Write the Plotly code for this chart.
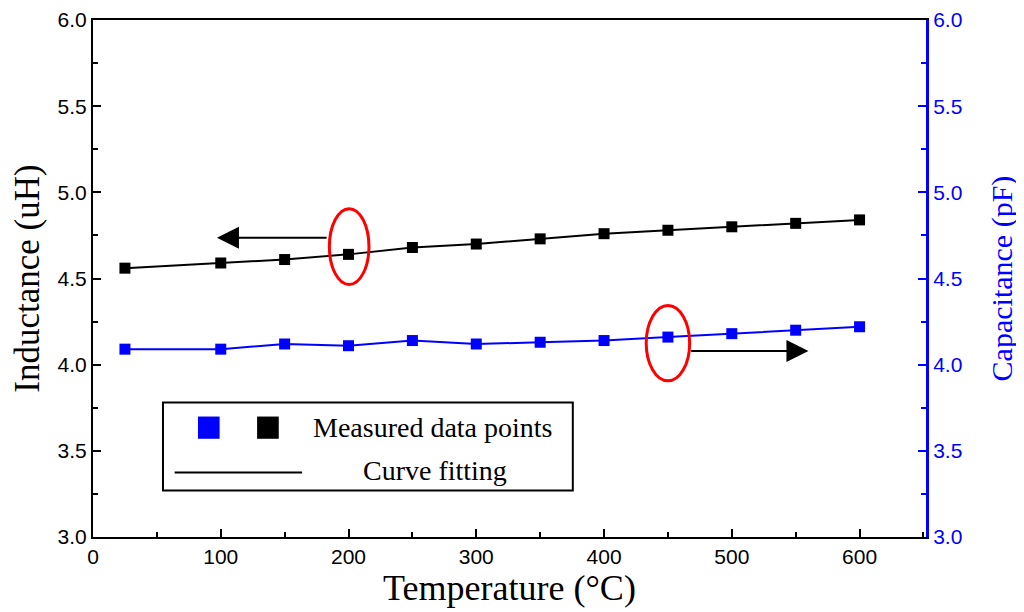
import plotly.graph_objects as go

temperature = [25, 100, 150, 200, 250, 300, 350, 400, 450, 500, 550, 600]
inductance = [4.56, 4.59, 4.61, 4.64, 4.68, 4.70, 4.73, 4.76, 4.78, 4.80, 4.82, 4.84]
capacitance = [4.09, 4.09, 4.12, 4.11, 4.14, 4.12, 4.13, 4.14, 4.16, 4.18, 4.20, 4.22]

x_ticks = [0, 100, 200, 300, 400, 500, 600]
y_ticks = [3.0, 3.5, 4.0, 4.5, 5.0, 5.5, 6.0]
y_tick_labels = ["3.0", "3.5", "4.0", "4.5", "5.0", "5.5", "6.0"]

serif = "Liberation Serif, Times New Roman, serif"
sans = "Liberation Sans, Arial, sans-serif"

fig = go.Figure()

fig.add_trace(go.Scatter(
    x=temperature, y=inductance, mode="lines+markers",
    line=dict(color="black", width=2),
    marker=dict(symbol="square", size=11, color="black"),
    showlegend=False, name="Inductance"
))
fig.add_trace(go.Scatter(
    x=temperature, y=capacitance, mode="lines+markers", yaxis="y2",
    line=dict(color="blue", width=2),
    marker=dict(symbol="square", size=11, color="blue"),
    showlegend=False, name="Capacitance"
))

# red ellipses marking which axis each curve belongs to
fig.add_shape(type="circle", xref="x", yref="y", x0=185, x1=216, y0=4.465, y1=4.905,
              line=dict(color="red", width=3))
fig.add_shape(type="circle", xref="x", yref="y", x0=433, x1=467, y0=3.906, y1=4.344,
              line=dict(color="red", width=3))

# arrows
fig.add_annotation(x=97, y=4.737, ax=184, ay=4.737, xref="x", yref="y", axref="x", ayref="y",
                   text="", showarrow=True, arrowhead=2, arrowsize=2.2, arrowwidth=2,
                   arrowcolor="black")
fig.add_annotation(x=560, y=4.08, ax=467, ay=4.08, xref="x", yref="y", axref="x", ayref="y",
                   text="", showarrow=True, arrowhead=2, arrowsize=2.2, arrowwidth=2,
                   arrowcolor="black")

# hand-made legend box
fig.add_shape(type="rect", xref="paper", yref="paper", x0=0.084, x1=0.576, y0=0.090, y1=0.260,
              line=dict(color="black", width=2), fillcolor="white")
fig.add_shape(type="rect", xref="paper", yref="paper", x0=0.126, x1=0.152, y0=0.190, y1=0.233,
              line=dict(width=0), fillcolor="blue")
fig.add_shape(type="rect", xref="paper", yref="paper", x0=0.197, x1=0.223, y0=0.190, y1=0.233,
              line=dict(width=0), fillcolor="black")
fig.add_shape(type="line", xref="paper", yref="paper", x0=0.098, x1=0.251, y0=0.125, y1=0.125,
              line=dict(color="black", width=2))
fig.add_annotation(x=0.262, y=0.2115, xref="paper", yref="paper", text="Measured data points",
                   showarrow=False, xanchor="left", yanchor="middle",
                   font=dict(family=serif, size=28, color="black"))
fig.add_annotation(x=0.4106, y=0.129, xref="paper", yref="paper", text="Curve fitting",
                   showarrow=False, xanchor="center", yanchor="middle",
                   font=dict(family=serif, size=28, color="black"))

fig.update_layout(
    width=1016, height=604,
    margin=dict(l=85, r=98, t=12, b=75),
    plot_bgcolor="white", paper_bgcolor="white",
    xaxis=dict(
        range=[0, 652], tickvals=x_ticks, ticks="inside", ticklen=8, tickwidth=2,
        tickcolor="black", showline=True, linecolor="black", linewidth=2, mirror=True,
        showgrid=False, zeroline=False, automargin=False, ticklabeloverflow="allow",
        minor=dict(dtick=50, tick0=0, ticks="inside", ticklen=5, tickwidth=2, tickcolor="black"),
        tickfont=dict(family=sans, size=21, color="black"),
        title=dict(text="Temperature (°C)", font=dict(family=serif, size=36, color="black"),
                   standoff=0)
    ),
    yaxis=dict(
        range=[3.0, 6.0], tickvals=y_ticks, ticktext=y_tick_labels, ticks="inside",
        ticklen=8, tickwidth=2, tickcolor="black", showline=True, linecolor="black",
        linewidth=2, showgrid=False, zeroline=False, automargin=False,
        ticklabeloverflow="allow",
        minor=dict(dtick=0.25, tick0=3.0, ticks="inside", ticklen=5, tickwidth=2,
                   tickcolor="black"),
        tickfont=dict(family=sans, size=21, color="black"),
        title=dict(text="Inductance (uH)", font=dict(family=serif, size=35, color="black"),
                   standoff=20)
    ),
    yaxis2=dict(
        range=[3.0, 6.0], tickvals=y_ticks, ticktext=y_tick_labels, overlaying="y",
        side="right", ticks="inside", ticklen=8, tickwidth=2, tickcolor="blue",
        showline=True, linecolor="blue", linewidth=3, showgrid=False, zeroline=False,
        automargin=False, ticklabeloverflow="allow",
        minor=dict(dtick=0.25, tick0=3.0, ticks="inside", ticklen=5, tickwidth=2,
                   tickcolor="blue"),
        tickfont=dict(family=sans, size=21, color="blue"),
        title=dict(text="Capacitance (pF)", font=dict(family=serif, size=30, color="blue"),
                   standoff=30)
    ),
)

fig.write_html("out.html")
